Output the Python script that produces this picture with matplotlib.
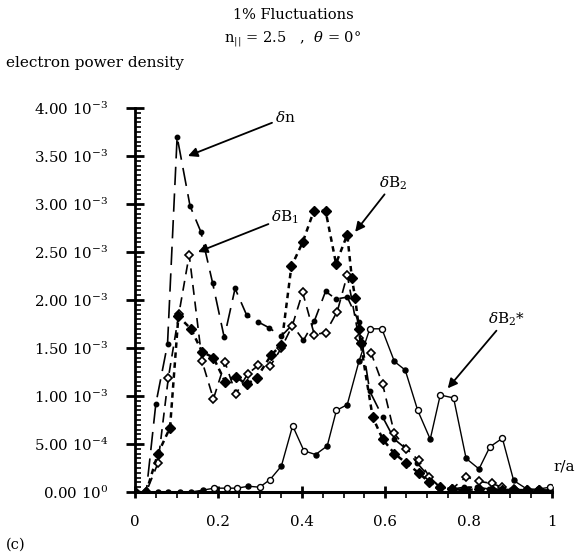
import numpy as np
import matplotlib
matplotlib.use("Agg")
import matplotlib.pyplot as plt
from matplotlib.ticker import MultipleLocator, FixedLocator, FuncFormatter

plt.rcParams['font.family'] = ['DejaVu Serif']
plt.rcParams['mathtext.fontset'] = 'dejavuserif'

SCALE = 1e-3  # values below are in units of 1e-3

# delta n (long dashes, filled circles)
dn_r = [0.000, 0.027, 0.050, 0.078, 0.101, 0.132, 0.158, 0.186, 0.214, 0.240,
        0.268, 0.296, 0.322, 0.350, 0.377, 0.404, 0.430, 0.457, 0.482, 0.509,
        0.537, 0.563, 0.594, 0.622, 0.650, 0.677, 0.705, 0.732, 0.760, 0.790,
        0.820, 0.850, 0.880, 0.910, 0.940, 0.970, 1.000]
dn_p = [0.00, 0.00, 0.92, 1.54, 3.70, 2.98, 2.71, 2.18, 1.61, 2.12,
        1.84, 1.77, 1.71, 1.62, 1.74, 1.58, 1.78, 2.09, 2.01, 2.03,
        1.77, 1.05, 0.78, 0.55, 0.45, 0.30, 0.16, 0.05, 0.03, 0.05,
        0.05, 0.03, 0.03, 0.02, 0.02, 0.02, 0.02]

# delta B1 (dashes, open diamonds)
db1_r = [0.000, 0.027, 0.055, 0.080, 0.105, 0.130, 0.161, 0.188, 0.216, 0.242,
         0.270, 0.296, 0.324, 0.351, 0.377, 0.402, 0.430, 0.457, 0.485, 0.509,
         0.537, 0.566, 0.594, 0.622, 0.651, 0.680, 0.706, 0.732, 0.760, 0.794,
         0.826, 0.855, 0.880, 0.910, 0.940, 0.970, 1.000]
db1_p = [0.00, 0.00, 0.30, 1.19, 1.85, 2.47, 1.36, 0.97, 1.35, 1.02,
         1.23, 1.32, 1.31, 1.50, 1.73, 2.08, 1.64, 1.66, 1.88, 2.26,
         1.60, 1.45, 1.12, 0.61, 0.45, 0.33, 0.16, 0.04, 0.03, 0.16,
         0.11, 0.09, 0.05, 0.03, 0.02, 0.02, 0.02]

# delta B2 (short dashes, filled diamonds)
db2_r = [0.000, 0.027, 0.055, 0.084, 0.104, 0.134, 0.161, 0.188, 0.216, 0.242,
         0.268, 0.292, 0.327, 0.351, 0.375, 0.402, 0.429, 0.457, 0.482, 0.509,
         0.520, 0.528, 0.537, 0.541, 0.570, 0.594, 0.622, 0.651, 0.680, 0.706,
         0.732, 0.760, 0.790, 0.826, 0.855, 0.880, 0.910, 0.940, 0.970, 1.000]
db2_p = [0.00, 0.00, 0.40, 0.67, 1.83, 1.70, 1.46, 1.40, 1.15, 1.20,
         1.12, 1.19, 1.43, 1.53, 2.35, 2.60, 2.93, 2.93, 2.38, 2.68,
         2.23, 2.02, 1.70, 1.55, 0.78, 0.55, 0.40, 0.30, 0.20, 0.10,
         0.05, 0.03, 0.02, 0.03, 0.02, 0.02, 0.02, 0.02, 0.02, 0.02]

# delta B2* (solid line, circles)
db2s_r = [0.000, 0.027, 0.055, 0.080, 0.108, 0.135, 0.163, 0.190, 0.220, 0.245,
          0.272, 0.299, 0.324, 0.351, 0.378, 0.405, 0.433, 0.461, 0.483, 0.509,
          0.537, 0.563, 0.592, 0.622, 0.648, 0.678, 0.708, 0.732, 0.764, 0.794,
          0.825, 0.851, 0.881, 0.908, 0.940, 0.967, 0.995]
db2s_p = [0.00, 0.00, 0.00, 0.00, 0.00, 0.00, 0.02, 0.04, 0.04, 0.04,
          0.06, 0.05, 0.13, 0.27, 0.69, 0.43, 0.39, 0.48, 0.85, 0.91,
          1.36, 1.70, 1.70, 1.36, 1.27, 0.85, 0.55, 1.01, 0.98, 0.35,
          0.24, 0.47, 0.56, 0.12, 0.03, 0.03, 0.05]
db2s_open = [0, 0, 0, 0, 0, 0, 0, 1, 1, 1,
             0, 1, 1, 0, 1, 1, 0, 0, 1, 0,
             0, 1, 1, 0, 0, 1, 0, 1, 1, 0,
             0, 1, 1, 0, 0, 0, 1]

y_ticks = [0.0, 0.5, 1.0, 1.5, 2.0, 2.5, 3.0, 3.5, 4.0]
x_ticks = [0, 0.2, 0.4, 0.6, 0.8, 1.0]
x_ticklabels = ['0', '0.2', '0.4', '0.6', '0.8', '1']

fig = plt.figure(figsize=(5.79, 5.59), dpi=100)
ax = fig.add_axes([135/579, 1 - 492/559, 417/579, 384/559])
ax.set_clip_on(False)

def sc(v):
    return [a * SCALE for a in v]

lw = 1.2
ax.plot(dn_r, sc(dn_p), color='black', lw=lw, linestyle=(0, (11, 5)),
        marker='o', ms=3.2, mfc='black', mec='black', zorder=3)
ax.plot(db1_r, sc(db1_p), color='black', lw=lw, linestyle=(0, (6, 4)),
        marker='D', ms=4.3, mfc='white', mec='black', mew=1.2, zorder=4)
ax.plot(db2_r, sc(db2_p), color='black', lw=1.8, linestyle=(0, (2.2, 1.8)),
        marker='D', ms=4.6, mfc='black', mec='black', zorder=4)
ax.plot(db2s_r, sc(db2s_p), color='black', lw=1.0, linestyle='-', zorder=3)
ro = [r for r, o in zip(db2s_r, db2s_open) if o]
po = [p for p, o in zip(db2s_p, db2s_open) if o]
rf = [r for r, o in zip(db2s_r, db2s_open) if not o]
pf = [p for p, o in zip(db2s_p, db2s_open) if not o]
ax.plot(ro, sc(po), ls='none', marker='o', ms=4.3, mfc='white', mec='black', mew=1.0, zorder=5)
ax.plot(rf, sc(pf), ls='none', marker='o', ms=3.6, mfc='black', mec='black', zorder=5)

ax.set_xlim(0, 1.0)
ax.set_ylim(0, 4.0e-3)
for s in ['top', 'right']:
    ax.spines[s].set_visible(False)
ax.spines['left'].set_linewidth(2.0)
ax.spines['bottom'].set_linewidth(2.2)
ax.spines['left'].set_bounds(0, 4.0e-3)

ax.yaxis.set_major_locator(FixedLocator(sc(y_ticks)))
ax.yaxis.set_minor_locator(MultipleLocator(0.05e-3))
ax.xaxis.set_major_locator(FixedLocator(x_ticks))
ax.xaxis.set_minor_locator(MultipleLocator(0.05))
ax.set_xticklabels(x_ticklabels)

def yfmt(v, pos):
    if abs(v) < 1e-12:
        return r'0.00 10$^{0}$'
    e = int(np.floor(np.log10(abs(v)) + 1e-9))
    m = v / 10 ** e
    return f'{m:.2f} 10$^{{{e}}}$'

ax.yaxis.set_major_formatter(FuncFormatter(yfmt))
ax.tick_params(axis='y', which='major', direction='inout', length=13, width=2, labelsize=10.8, pad=13)
ax.tick_params(axis='y', which='minor', direction='in', length=4, width=1.2)
ax.tick_params(axis='x', which='major', direction='inout', length=9, width=2, labelsize=10.8, pad=12)
ax.tick_params(axis='x', which='minor', direction='out', length=4, width=1.2)

fs = 11
fig.text(0.506, 1 - 15/559, '1% Fluctuations', ha='center', va='center', fontsize=10.5)
fig.text(0.506, 1 - 39/559, r'n$_{||}$ = 2.5   ,  $\theta$ = 0°', ha='center', va='center', fontsize=10.5)
fig.text(6/579, 1 - 63/559, 'electron power density', ha='left', va='center', fontsize=11)
fig.text(6/579, 1 - 545/559, '(c)', ha='left', va='center', fontsize=10.5)
ax.text(1.03, 0.27e-3, 'r/a', ha='center', va='center', fontsize=11)

arrow = dict(arrowstyle='-|>', color='black', lw=1.3, mutation_scale=14, shrinkA=0, shrinkB=0)
ax.annotate(r'$\delta$n', xy=(0.127, 3.50e-3), xytext=(0.36, 3.90e-3),
            ha='center', va='center', fontsize=fs, arrowprops=arrow)
ax.annotate(r'$\delta$B$_{1}$', xy=(0.151, 2.50e-3), xytext=(0.36, 2.86e-3),
            ha='center', va='center', fontsize=fs, arrowprops=arrow)
ax.annotate(r'$\delta$B$_{2}$', xy=(0.528, 2.71e-3), xytext=(0.62, 3.22e-3),
            ha='center', va='center', fontsize=fs, arrowprops=arrow)
ax.annotate(r'$\delta$B$_{2}$*', xy=(0.75, 1.08e-3), xytext=(0.89, 1.80e-3),
            ha='center', va='center', fontsize=fs, arrowprops=arrow)

fig.savefig('out.png', dpi=100)
